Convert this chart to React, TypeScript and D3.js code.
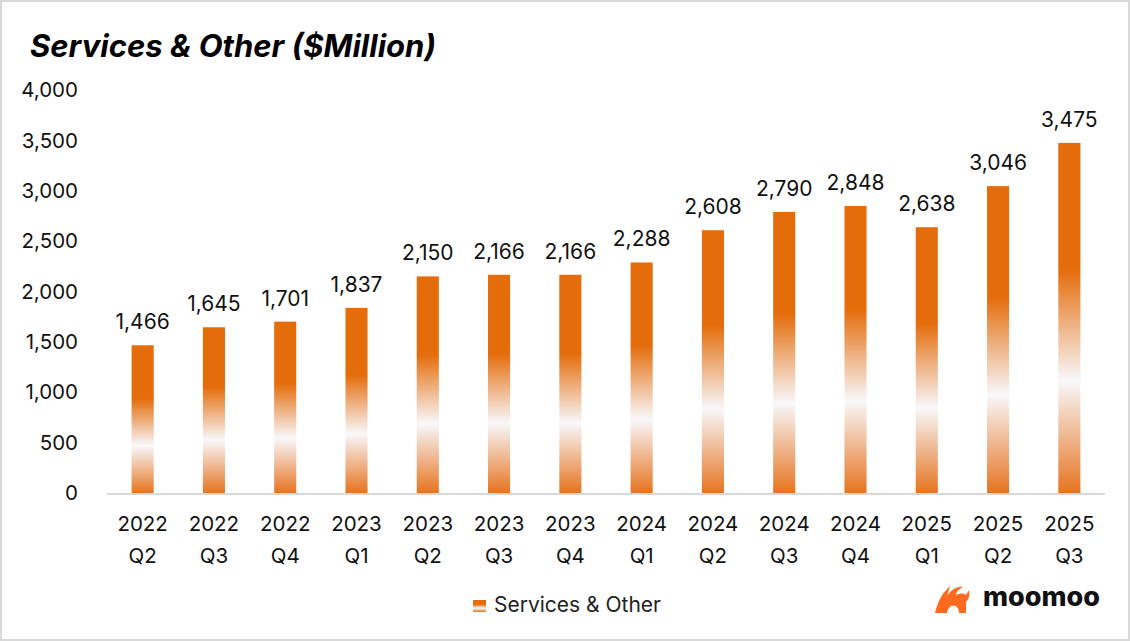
import { useMemo } from 'react';
import * as d3 from 'd3';

const categories = [
  '2022 Q2', '2022 Q3', '2022 Q4', '2023 Q1', '2023 Q2', '2023 Q3', '2023 Q4',
  '2024 Q1', '2024 Q2', '2024 Q3', '2024 Q4', '2025 Q1', '2025 Q2', '2025 Q3',
];
const servicesValues = [1466, 1645, 1701, 1837, 2150, 2166, 2166, 2288, 2608, 2790, 2848, 2638, 3046, 3475];
const yTicks = [0, 500, 1000, 1500, 2000, 2500, 3000, 3500, 4000];

const W = 1130;
const H = 641;
const margin = { top: 90, right: 25, bottom: 148, left: 107 };
const FONT = 'Inter, "Noto Sans", sans-serif';

export default function App() {
  const innerW = W - margin.left - margin.right;
  const innerH = H - margin.top - margin.bottom;

  const x = useMemo(
    () => d3.scaleBand<string>().domain(categories).range([0, innerW]).paddingInner(0.69).paddingOuter(0.345),
    [innerW],
  );
  const y = useMemo(() => d3.scaleLinear().domain([0, 4000]).range([innerH, 0]), [innerH]);
  const fmt = d3.format(',');

  return (
    <div style={{ position: 'fixed', left: 0, top: 0 }}>
      <svg width={W} height={H} style={{ display: 'block', background: '#fff' }}>
        <defs>
          <linearGradient id="barGrad" x1="0" y1="0" x2="0" y2="1">
            <stop offset="0" stopColor="#e46c0a" />
            <stop offset="0.36" stopColor="#e46c0a" />
            <stop offset="0.68" stopColor="#f8f8fb" />
            <stop offset="1" stopColor="#e67420" />
          </linearGradient>
        </defs>
        <rect x={1} y={1} width={W - 2} height={H - 2} fill="#fff" stroke="#d9d9d9" strokeWidth={2} />

        <text x={30} y={57} fontFamily={FONT} fontSize={31} fontWeight={700} fontStyle="italic" fill="#000">
          Services &amp; Other ($Million)
        </text>

        <g transform={`translate(${margin.left},${margin.top})`}>
          {yTicks.map((t) => (
            <text key={t} x={-29} y={y(t)} dy="0.35em" textAnchor="end" fontFamily={FONT} fontSize={20.5} fill="#111">
              {fmt(t)}
            </text>
          ))}

          {categories.map((c, i) => {
            const v = servicesValues[i];
            const bx = x(c) ?? 0;
            const cx = bx + x.bandwidth() / 2;
            const [yr, q] = c.split(' ');
            return (
              <g key={c}>
                <rect x={bx} y={y(v)} width={x.bandwidth()} height={innerH - y(v)} fill="url(#barGrad)" />
                <text x={cx} y={y(v) - 16} textAnchor="middle" fontFamily={FONT} fontSize={21} fill="#111">
                  {fmt(v)}
                </text>
                <text x={cx} y={innerH + 38} textAnchor="middle" fontFamily={FONT} fontSize={20.5} fill="#111">
                  {yr}
                </text>
                <text x={cx} y={innerH + 70} textAnchor="middle" fontFamily={FONT} fontSize={20.5} fill="#111">
                  {q}
                </text>
              </g>
            );
          })}

          <line x1={0} x2={innerW} y1={innerH + 1} y2={innerH + 1} stroke="#d9d9d9" strokeWidth={2} />
        </g>

        {/* legend */}
        <rect x={473} y={600} width={13} height={12} fill="url(#barGrad)" />
        <text x={494} y={612} fontFamily={FONT} fontSize={21} fill="#222">
          Services &amp; Other
        </text>

        {/* moomoo logo */}
        <g transform="translate(933,582)">
          <path
            d="M4,31 C6,20 10,10 17,4 L14,14 C18,8 24,4 30,5 C26,7 23,10 23,13 C27,11 31,11 33,13 L36,8 C37,13 36,17 33,20 L33,31 L26,31 C26,25 22,22 18,24 C15,26 14,29 14,31 Z"
            fill="#ff6a1f"
          />
          <path d="M2,31 C4,22 8,14 12,9 L10,18 C8,22 7,27 7,31 Z" fill="#ff6a1f" />
        </g>
        <text x={983} y={606} fontFamily={FONT} fontSize={27} fontWeight={800} fill="#111">
          moomoo
        </text>
      </svg>
    </div>
  );
}
